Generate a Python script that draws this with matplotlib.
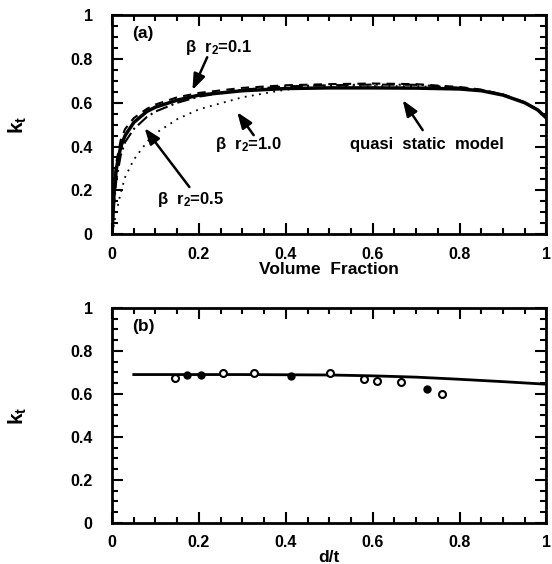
import matplotlib
matplotlib.use('Agg')
import matplotlib.pyplot as plt
from matplotlib.ticker import MultipleLocator

plt.rcParams['font.family'] = ['Liberation Sans', 'DejaVu Sans']
plt.rcParams['font.weight'] = 'bold'
plt.rcParams['axes.labelweight'] = 'bold'
plt.rcParams['mathtext.fontset'] = 'custom'
plt.rcParams['mathtext.rm'] = 'Liberation Sans:bold'
plt.rcParams['mathtext.it'] = 'Liberation Sans:bold'
plt.rcParams['mathtext.bf'] = 'Liberation Sans:bold'

# panel (a): k_t against volume fraction
vf = [0, 0.005, 0.01, 0.02, 0.03, 0.05, 0.08, 0.1, 0.15, 0.2, 0.3, 0.4,
      0.5, 0.6, 0.7, 0.8, 0.85, 0.9, 0.95, 0.98, 1.0]
k_quasi = [0, 0.2, 0.3, 0.4, 0.45, 0.51, 0.56, 0.58, 0.612, 0.635, 0.655, 0.665,
           0.668, 0.668, 0.667, 0.663, 0.655, 0.635, 0.6, 0.567, 0.53]
k_br01 = [0, 0.22, 0.33, 0.43, 0.48, 0.53, 0.572, 0.592, 0.625, 0.645, 0.668, 0.68,
          0.685, 0.688, 0.685, 0.672, 0.66, 0.638, 0.602, 0.568, 0.53]
k_br05 = [0, 0.15, 0.25, 0.36, 0.42, 0.48, 0.535, 0.56, 0.6, 0.628, 0.66, 0.675,
          0.68, 0.683, 0.682, 0.669, 0.658, 0.637, 0.601, 0.567, 0.53]
k_br10 = [0, 0.05, 0.1, 0.19, 0.26, 0.34, 0.42, 0.46, 0.525, 0.57, 0.625, 0.66,
          0.672, 0.676, 0.676, 0.667, 0.657, 0.636, 0.6, 0.567, 0.53]

# curve labels: text, text position, arrow tail, arrow head
labels = [r'$\beta$  r$_2$=0.1', r'$\beta$  r$_2$=1.0', r'$\beta$  r$_2$=0.5',
          'quasi  static  model']
label_pos = [(0.167, 0.854), (0.237, 0.41), (0.103, 0.16), (0.548, 0.41)]
arrow_tail = [(0.219, 0.808), (0.326, 0.452), (0.178, 0.215), (0.715, 0.475)]
arrow_head = [(0.185, 0.658), (0.288, 0.557), (0.075, 0.484), (0.669, 0.612)]

# panel (b): k_t against d/t
dt_line = [0.05, 0.3, 0.5, 0.6, 0.7, 0.8, 0.9, 1.0]
k_line = [0.69, 0.69, 0.688, 0.684, 0.678, 0.668, 0.657, 0.645]
dt_open = [0.146, 0.256, 0.326, 0.501, 0.579, 0.609, 0.664, 0.759]
k_open = [0.673, 0.699, 0.699, 0.699, 0.668, 0.66, 0.654, 0.6]
dt_filled = [0.173, 0.205, 0.412, 0.724]
k_filled = [0.688, 0.688, 0.685, 0.622]

fig = plt.figure(figsize=(5.52, 5.64), dpi=100)
ax1 = fig.add_axes([0.203, 0.585, 0.787, 0.388])
ax2 = fig.add_axes([0.203, 0.073, 0.787, 0.381])


def style(ax):
    ax.set_xlim(0, 1)
    ax.set_ylim(0, 1)
    ax.xaxis.set_minor_locator(MultipleLocator(0.05))
    ax.yaxis.set_minor_locator(MultipleLocator(0.05))
    ax.tick_params(which='both', direction='in', top=True, right=True, width=1.5)
    ax.tick_params(which='major', length=8)
    ax.tick_params(which='minor', length=4)
    ax.tick_params(axis='y', pad=14, labelsize=11.5)
    ax.tick_params(axis='x', pad=9, labelsize=11.5)
    ax.set_xticks([0, 0.2, 0.4, 0.6, 0.8, 1.0], ['0', '0.2', '0.4', '0.6', '0.8', '1'])
    ax.set_yticks([0, 0.2, 0.4, 0.6, 0.8, 1.0], ['0', '0.2', '0.4', '0.6', '0.8', '1'])
    for s in ax.spines.values():
        s.set_linewidth(2)
    ax.set_ylabel(r'$\mathrm{k}_\mathrm{t}$', fontsize=15, labelpad=30)


# Make plot (a)
style(ax1)
ax1.plot(vf, k_quasi, color='black', linewidth=2.5, linestyle='-')
ax1.plot(vf, k_br01, color='black', linewidth=1.5, linestyle=(0, (4, 3)))
ax1.plot(vf, k_br05, color='black', linewidth=1.5, linestyle=(0, (6, 2, 1, 2)))
ax1.plot(vf, k_br10, color='black', linewidth=1.3, linestyle=(0, (1, 3)))
ax1.set_xlabel('Volume  Fraction', fontsize=12.5, labelpad=0)
ax1.text(0.046, 0.915, '(a)', fontsize=12.5, va='center')

for text, pos, tail, head in zip(labels, label_pos, arrow_tail, arrow_head):
    ax1.text(pos[0], pos[1], text, fontsize=12, va='center')
    ax1.annotate('', xy=head, xytext=tail,
                 arrowprops=dict(arrowstyle='-|>,head_length=0.8,head_width=0.3',
                                 color='black', linewidth=1.8, mutation_scale=12,
                                 shrinkA=0, shrinkB=0))

# Make plot (b)
style(ax2)
ax2.plot(dt_line, k_line, color='black', linewidth=2)
ax2.plot(dt_open, k_open, linestyle='none', marker='o', markersize=5,
         markerfacecolor='white', markeredgecolor='black', markeredgewidth=1.5)
ax2.plot(dt_filled, k_filled, linestyle='none', marker='o', markersize=5,
         color='black')
ax2.set_xlabel('d/t', fontsize=12.5, labelpad=0)
ax2.text(0.046, 0.915, '(b)', fontsize=12.5, va='center')

plt.savefig('out.png', dpi=100)
